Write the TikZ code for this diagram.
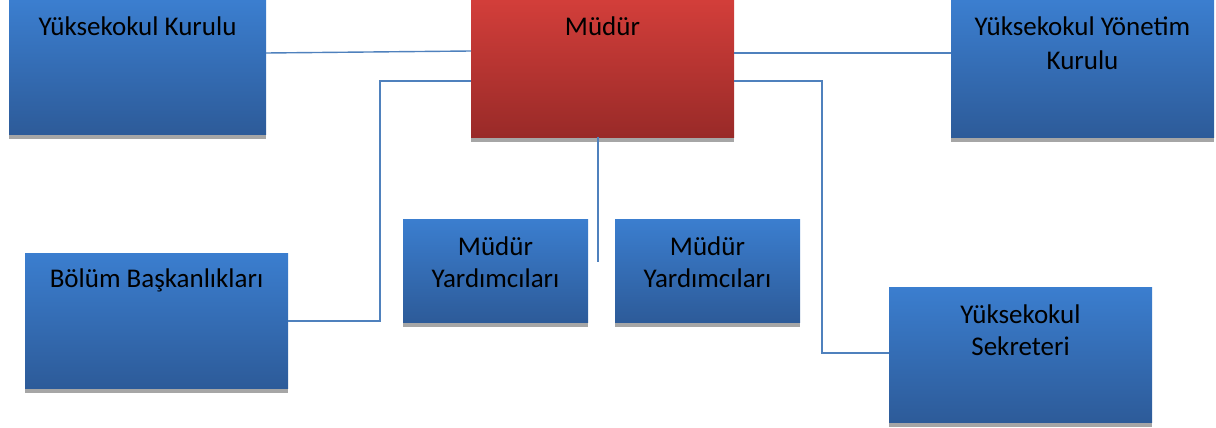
\documentclass[tikz,border=0pt]{standalone}
\usepackage{fontspec}
\setmainfont{Carlito}
\usetikzlibrary{shadows}
\definecolor{bluetop}{RGB}{59,126,207}
\definecolor{bluebot}{RGB}{45,91,153}
\definecolor{redtop}{RGB}{210,62,58}
\definecolor{redbot}{RGB}{153,42,40}
\definecolor{shadowgray}{RGB}{166,166,166}
\definecolor{linkblue}{RGB}{79,129,189}
\tikzset{
  orgbox/.style={rectangle, anchor=north west, inner sep=0pt, outer sep=0pt,
    top color=bluetop, bottom color=bluebot,
    general shadow={fill=shadowgray, shadow xshift=0pt, shadow yshift=-5pt}},
  headbox/.style={orgbox, top color=redtop, bottom color=redbot},
  boxtext/.style={anchor=base, inner sep=0pt, align=center, text=black,
    font=\fontsize{27}{32}\selectfont},
  link/.style={draw=linkblue, line width=1.4pt}
}
\begin{document}
\begin{tikzpicture}[x=1pt,y=-1pt]
\useasboundingbox (0,0) rectangle (1216,428);
% boxes
\node[orgbox, minimum width=257pt, minimum height=133pt] (kurul) at (9,1) {};
\node[headbox, minimum width=263pt, minimum height=136pt] (mudur) at (471,1) {};
\node[orgbox, minimum width=263pt, minimum height=136pt] (yonetim) at (951,1) {};
\node[orgbox, minimum width=263pt, minimum height=135pt] (bolum) at (25,253) {};
\node[orgbox, minimum width=185pt, minimum height=103pt] (yard1) at (403,219) {};
\node[orgbox, minimum width=185pt, minimum height=103pt] (yard2) at (615,219) {};
\node[orgbox, minimum width=263pt, minimum height=135pt] (sekreter) at (889,287) {};
% texts (base anchor = baseline of the last line)
\node[boxtext] (t1) at (kurul.north |- 0,36) {Yüksekokul Kurulu};
\node[boxtext] (t2) at (mudur.north |- 0,36) {Müdür};
\node[boxtext] (t3) at (yonetim.north |- 0,70) {Yüksekokul Yönetim\\[2pt]Kurulu};
\node[boxtext] (t4) at (bolum.north |- 0,287) {Bölüm Başkanlıkları};
\node[boxtext] (t5) at (yard1.north |- 0,287) {Müdür\\Yardımcıları};
\node[boxtext] (t6) at (yard2.north |- 0,287) {Müdür\\Yardımcıları};
\node[boxtext] (t7) at (sekreter.north |- 0,355) {Yüksekokul\\Sekreteri};
% connectors
\coordinate (vend) at (598,262);
\draw[link] (kurul.east |- 0,53) -- (mudur.west |- 0,51);
\draw[link] (mudur.west |- 0,81) -- (380,81) -- (380,321) -- (bolum.east |- 0,321);
\draw[link] (mudur.east |- 0,53) -- (yonetim.west |- 0,53);
\draw[link] (mudur.east |- 0,81) -- (822,81) -- (822,353) -- (sekreter.west |- 0,353);
\draw[link] (vend |- mudur.south) -- (vend);
\end{tikzpicture}
\end{document}
